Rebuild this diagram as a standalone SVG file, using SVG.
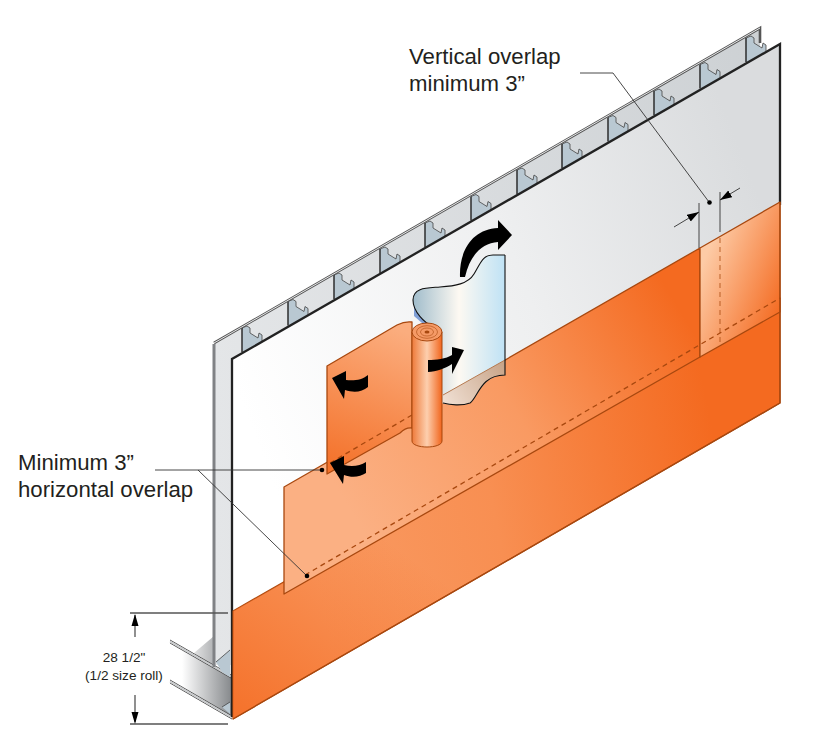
<svg xmlns="http://www.w3.org/2000/svg" width="832" height="743" viewBox="0 0 832 743">
<style>
.t{font-family:"Liberation Sans",Arial,sans-serif;fill:#231f20}
.big{font-size:22.200px}
.small{font-size:13.600px;text-anchor:middle}
.lead{fill:none;stroke:#333;stroke-width:.9}
.dim{fill:none;stroke:#555;stroke-width:1.300}
.o{stroke:#a8480f;stroke-width:1.300;stroke-linejoin:round}
.dash{fill:none;stroke:#a8480f;stroke-width:1.300;stroke-dasharray:5 4}
.studfill{fill:#b9c8d2}
.studline{fill:none;stroke:#444;stroke-width:.8;stroke-linejoin:round}
.web{stroke:#222;stroke-width:1.400}
.blk{fill:#000}
</style>
<defs>
<linearGradient id="wall" gradientUnits="userSpaceOnUse" x1="240" y1="400" x2="760" y2="200"><stop offset="0" stop-color="#fff"/><stop offset=".55" stop-color="#eeeff0"/><stop offset="1" stop-color="#dadcde"/></linearGradient>
<linearGradient id="band" gradientUnits="userSpaceOnUse" x1="214" y1="0" x2="760" y2="0"><stop offset="0" stop-color="#e4e6e8"/><stop offset="1" stop-color="#cdd1d4"/></linearGradient>
<linearGradient id="o1" gradientUnits="userSpaceOnUse" x1="320" y1="600" x2="730" y2="520"><stop offset="0" stop-color="#f99a62"/><stop offset=".45" stop-color="#f88f52"/><stop offset="1" stop-color="#f46a20"/></linearGradient>
<linearGradient id="o1b" gradientUnits="userSpaceOnUse" x1="400" y1="550" x2="270" y2="730"><stop offset="0" stop-color="#f46a20" stop-opacity="0"/><stop offset="1" stop-color="#f46a20" stop-opacity=".8"/></linearGradient>
<linearGradient id="o2" gradientUnits="userSpaceOnUse" x1="350" y1="510" x2="680" y2="310"><stop offset="0" stop-color="#fbb083"/><stop offset=".5" stop-color="#f99a62"/><stop offset="1" stop-color="#f46a20"/></linearGradient>
<linearGradient id="o3" gradientUnits="userSpaceOnUse" x1="700" y1="270" x2="785" y2="305"><stop offset="0" stop-color="#fdcba6"/><stop offset="1" stop-color="#f46a20"/></linearGradient>
<linearGradient id="flap" gradientUnits="userSpaceOnUse" x1="400" y1="330" x2="345" y2="470"><stop offset="0" stop-color="#fbad7e"/><stop offset="1" stop-color="#f4732c"/></linearGradient>
<linearGradient id="roll" gradientUnits="userSpaceOnUse" x1="412" y1="0" x2="442" y2="0"><stop offset="0" stop-color="#ee7a3a"/><stop offset=".5" stop-color="#fdcfae"/><stop offset="1" stop-color="#f1651c"/></linearGradient>
<linearGradient id="paper" gradientUnits="userSpaceOnUse" x1="413" y1="0" x2="505" y2="0"><stop offset="0" stop-color="#a0bccb"/><stop offset=".5" stop-color="#fdf9f2"/><stop offset="1" stop-color="#bfe2f5"/></linearGradient>
<linearGradient id="tint" gradientUnits="userSpaceOnUse" x1="505" y1="365" x2="445" y2="405"><stop offset="0" stop-color="#c8a488"/><stop offset="1" stop-color="#f0e0d4"/></linearGradient>
<linearGradient id="base" gradientUnits="userSpaceOnUse" x1="182" y1="0" x2="232" y2="0"><stop offset="0" stop-color="#fff"/><stop offset="1" stop-color="#85888b"/></linearGradient>
<marker id="ah" markerWidth="13" markerHeight="9" refX="12" refY="4" orient="auto" markerUnits="userSpaceOnUse"><path d="M0 0L12 4L0 8Z" fill="#000"/></marker>
<g id="c"><path class="studfill" d="M0 0L5-2L8 0L8 5L16 10L17 5L20 7L20 13L0 25Z"/><path class="studline" d="M0 0L5-2L8 0L8 5L16 10L17 5L20 7L20 13"/><path class="web" d="M0 0V24"/></g>
</defs>

<g id="base-track">
<path d="M194 653L214 636V672Z" fill="url(#base)"/>
<path d="M170 641L232 677V717L170 680Z" fill="url(#base)"/>
<path d="M170 640L231 675M170 643L231 678M170 680L232 716M170 683L232 719" stroke="#555" stroke-width="1" fill="none"/>
<path d="M170 641.500L231 676.500M170 681.500L232 717.500" stroke="#c9cbcd" stroke-width="2" fill="none"/>
</g>

<g id="back-panel">
<path d="M214 343L760 28V75L232 380V665H214Z" fill="url(#band)"/>
<use href="#c" x="242" y="328"/><use href="#c" x="288" y="301.500"/><use href="#c" x="334" y="275"/><use href="#c" x="380" y="249"/><use href="#c" x="425" y="223"/><use href="#c" x="471" y="196.500"/><use href="#c" x="517" y="170"/><use href="#c" x="562" y="144"/><use href="#c" x="608" y="117.500"/><use href="#c" x="654" y="91"/><use href="#c" x="700" y="64.500"/><use href="#c" x="746" y="38"/>
<path d="M214 343L760 28V43" fill="none" stroke="#555" stroke-width="2.600"/>
<path d="M214 343L760 28" fill="none" stroke="#e8e9ea" stroke-width="1"/>
<path d="M214 344V667" stroke="#808285" stroke-width="3" fill="none"/>
<path class="studfill" d="M216 662L230 650V677L222 672Z"/>
<path class="studfill" d="M222 707L230 702V714Z"/>
<path class="studline" d="M216 662L230 650M222 707L230 702"/>
</g>

<g id="front-panel">
<path d="M232 359L780 44V205L232 620Z" fill="url(#wall)"/>
<path d="M232 717V359L780 44V205" fill="none" stroke="#222" stroke-width="2.300" stroke-linejoin="miter"/>
</g>

<g id="membrane">
<path class="o" d="M233 611L780 298V403L233 719Z" fill="url(#o1)"/>
<path d="M233 611L780 298V403L233 719Z" fill="url(#o1b)"/>
<path class="o" d="M284 487L700 248V357L284 594Z" fill="url(#o2)"/>
<path class="o" d="M700 248L780 202V312L700 357Z" fill="url(#o3)"/>
<path class="o" d="M780 202V403L233 719" fill="none" stroke-width="1.500"/>
</g>

<g id="release-paper">
<path d="M414 297L414 316L430 330L440 300Z" fill="#7f9fd6"/>
<path d="M505 255H493C483 255 481 262 474 274C468 284 455 286 440 287C428 288 413 287 413 300C413 312 425 323 432 326L441 403C450 405 462 406 470 403C478 398 480 375 505 375Z" fill="url(#paper)"/>
<path d="M443 395L505 360V375C482 375 478 398 470 403C462 406 450 405 443 403Z" fill="url(#tint)"/>
<path d="M443 395L505 360" stroke="#b67a50" stroke-width="1" fill="none"/>
<path d="M505 255H493C483 255 481 262 474 274C468 284 455 286 440 287C428 288 413 287 413 300C413 312 425 323 432 326M443 403C450 405 462 406 470 403C478 398 480 375 505 375V255" fill="none" stroke="#111" stroke-width="1.100"/>
</g>

<g id="flap-node">
<path class="o" d="M327 366L397 325Q405 321 412 322V428Q406 427 400 433L327 474Z" fill="url(#flap)"/>
<path class="dash" d="M305 575L780 298M330 463L412 415"/>
<path class="dash" d="M720 238V345" stroke-opacity=".6"/>
</g>

<g id="roll-node">
<path d="M412 332V441C412 449 442 449 442 441V332Z" fill="url(#roll)" stroke="#a8480f" stroke-width="1"/>
<ellipse cx="427" cy="332" rx="15" ry="9" fill="#f59a66" stroke="#a8480f" stroke-width="1"/>
<ellipse cx="427" cy="332" rx="10.500" ry="6.300" fill="none" stroke="#a8480f" stroke-width=".6"/>
<ellipse cx="427" cy="332" rx="6.500" ry="4" fill="none" stroke="#a8480f" stroke-width=".6"/>
<ellipse cx="427" cy="332" rx="2.500" ry="1.500" fill="#a8480f"/>
</g>

<g id="motion-arrows">
<path class="blk" d="M460 277C459 250 473 229 498 228V220L512 235L498 250V242C482 243 470 255 465 277Z"/>
<path class="blk" d="M428 360C436 360 446 359 452 355V347L464 350L452 374V364C446 368 436 372 428 372Z"/>
<path class="blk" d="M368 375C362 380 354 381 346 380V371L332 378L344 399L345 390C354 393 362 392 368 387Z"/>
<path class="blk" d="M366 462C360 466 352 467 344 465V456L330 463L343 484L344 475C352 478 360 477 366 473Z"/>
</g>

<g id="connectors">
<path class="lead" d="M580 73H613L709 202"/>
<circle cx="709.500" cy="202.500" r="2.300" fill="#000"/>
<path class="lead" d="M699 203V248M720 192V232"/>
<path class="lead" d="M674 227L699 212" marker-end="url(#ah)"/>
<path class="lead" d="M740 188L720 200" marker-end="url(#ah)"/>
<path class="lead" d="M155 470H322M198 470L307 576"/>
<circle cx="322" cy="470" r="2.300" fill="#000"/>
<circle cx="307" cy="576" r="2.300" fill="#000"/>
<path class="dim" d="M130 613H228M130 724H228"/>
<path class="dim" d="M135 637V615M135 695V722"/>
<path class="blk" d="M135 614L138.500 626H131.500ZM135 724L138.500 712H131.500Z"/>
</g>

<g id="labels">
<text class="t big" x="409" y="64">Vertical overlap</text>
<text class="t big" x="409" y="91">minimum 3”</text>
<text class="t big" x="18" y="470">Minimum 3”</text>
<text class="t big" x="18" y="497">horizontal overlap</text>
<text class="t small" x="124" y="662">28 1/2"</text>
<text class="t small" x="124" y="680">(1/2 size roll)</text>
</g>
</svg>
